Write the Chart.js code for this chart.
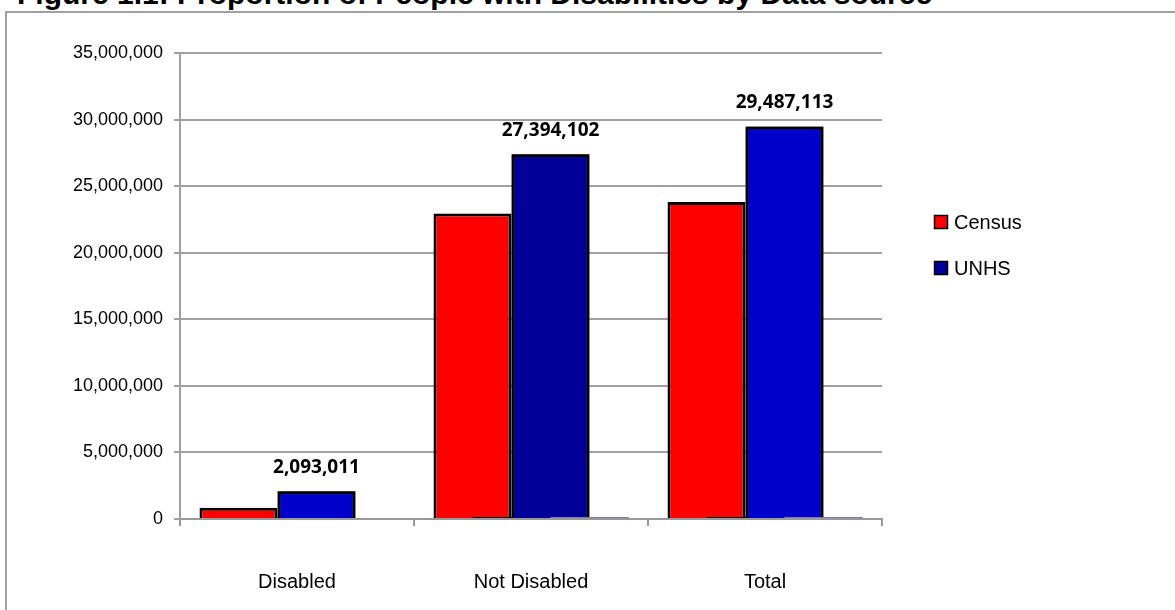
<!DOCTYPE html>
<html>
<head>
<meta charset="utf-8">
<script src="https://cdn.jsdelivr.net/npm/chart.js@4.4.1/dist/chart.umd.min.js"></script>
<style>
  html, body { margin: 0; padding: 0; background: #fff; overflow: hidden; }
  #page { position: relative; width: 1175px; height: 610px; overflow: hidden; }
  #title {
    position: absolute; left: 17px; top: -21px; white-space: nowrap;
    font: bold 30px "Liberation Sans", Arial, sans-serif; line-height: 30px; color: #000;
  }
  #frame {
    position: absolute; left: 5px; top: 11px; width: 1300px; height: 700px;
    border: 2px solid #a0a0a0; box-sizing: border-box;
  }
  #wrap { position: absolute; left: 0; top: 0; width: 1175px; height: 610px; }
</style>
</head>
<body>
<div id="page">
  <div id="title">Figure 1.1: Proportion of People with Disabilities by Data source</div>
  <div id="frame"></div>
  <div id="wrap"><canvas id="disabilityChart"></canvas></div>
</div>
<script>
// 数据
const categories = ['Disabled', 'Not Disabled', 'Total'];
const censusValues = [850000, 22950000, 23800000];
const unhsValues = [2093011, 27394102, 29487113];
// 两个几乎贴着横轴的小系列（不进图例）
const censusShare = [null, 140000, 140000];
const unhsShare = [null, 140000, 140000];
const yTickValues = [0, 5000000, 10000000, 15000000, 20000000, 25000000, 30000000, 35000000];

const fmt = v => v.toLocaleString('en-US');

// 右侧图例：只画有 swatch 的系列
const sideLegend = {
    id: 'sideLegend',
    afterDraw(chart) {
        const ctx = chart.ctx;
        let y = 215;
        ctx.save();
        chart.data.datasets.forEach(ds => {
            if (!ds.swatch) return;
            ctx.fillStyle = ds.swatch;
            ctx.fillRect(934, y, 14, 14);
            ctx.lineWidth = 1.5;
            ctx.strokeStyle = '#000';
            ctx.strokeRect(934.5, y + 0.5, 13, 13);
            ctx.fillStyle = '#000';
            ctx.font = '20px "Liberation Sans", Arial, sans-serif';
            ctx.textBaseline = 'alphabetic';
            ctx.textAlign = 'left';
            ctx.fillText(ds.label, 954, y + 14);
            y += 46;
        });
        ctx.restore();
    }
};

// 重叠柱子的叠放顺序：从第二个系列起按顺序重画到上层，并给 UNHS 加数值标签
const barOrder = {
    id: 'barOrder',
    afterDatasetsDraw(chart) {
        for (let i = 1; i < chart.data.datasets.length; i++) {
            chart.getDatasetMeta(i).controller.draw();
        }
        const ctx = chart.ctx;
        const meta = chart.getDatasetMeta(2);
        ctx.save();
        ctx.font = 'bold 19px "Open Sans", sans-serif';
        ctx.fillStyle = '#000';
        ctx.textAlign = 'center';
        ctx.textBaseline = 'middle';
        meta.data.forEach((bar, i) => {
            ctx.fillText(fmt(unhsValues[i]), bar.x, bar.y - 24);
        });
        ctx.restore();
    }
};

const ctx = document.getElementById('disabilityChart').getContext('2d');

const disabilityChart = new Chart(ctx, {
    type: 'bar',
    data: {
        labels: categories,
        datasets: [
            {
                label: 'Census',
                data: censusValues,
                backgroundColor: '#ff0000',
                borderColor: '#000',
                borderWidth: 3,
                swatch: '#ff0000'
            },
            {
                label: 'Census share',
                data: censusShare,
                backgroundColor: '#000',
                borderWidth: 0,
                minBarLength: 2
            },
            {
                label: 'UNHS',
                data: unhsValues,
                backgroundColor: ['#0000cc', '#000099', '#0000cc'],
                borderColor: '#000',
                borderWidth: 3,
                swatch: '#000099'
            },
            {
                label: 'UNHS share',
                data: unhsShare,
                backgroundColor: '#8672b4',
                borderWidth: 0,
                minBarLength: 2
            }
        ]
    },
    options: {
        responsive: true,
        maintainAspectRatio: false,
        animation: false,
        categoryPercentage: 0.6667,
        barPercentage: 2,
        layout: {
            padding: { left: 60, top: 53, right: 293, bottom: 11 }
        },
        scales: {
            x: {
                offset: true,
                grid: { drawOnChartArea: false, drawTicks: true, tickLength: 7, color: '#999', lineWidth: 2 },
                border: { color: '#999', width: 2 },
                ticks: {
                    color: '#000',
                    padding: 44,
                    font: { family: '"Liberation Sans", Arial, sans-serif', size: 20 }
                },
                afterFit: s => { s.height = 80; }
            },
            y: {
                min: 0,
                max: 35000000,
                afterBuildTicks: s => { s.ticks = yTickValues.map(v => ({ value: v })); },
                grid: { color: '#a0a0a0', lineWidth: 2, tickLength: 6 },
                border: { color: '#a0a0a0', width: 2 },
                ticks: {
                    color: '#000',
                    padding: 11,
                    font: { family: '"Liberation Sans", Arial, sans-serif', size: 18 },
                    callback: v => fmt(v)
                },
                afterFit: s => { s.width = 120; }
            }
        },
        plugins: {
            legend: { display: false },
            tooltip: { enabled: false }
        }
    },
    plugins: [barOrder, sideLegend]
});
</script>
</body>
</html>
